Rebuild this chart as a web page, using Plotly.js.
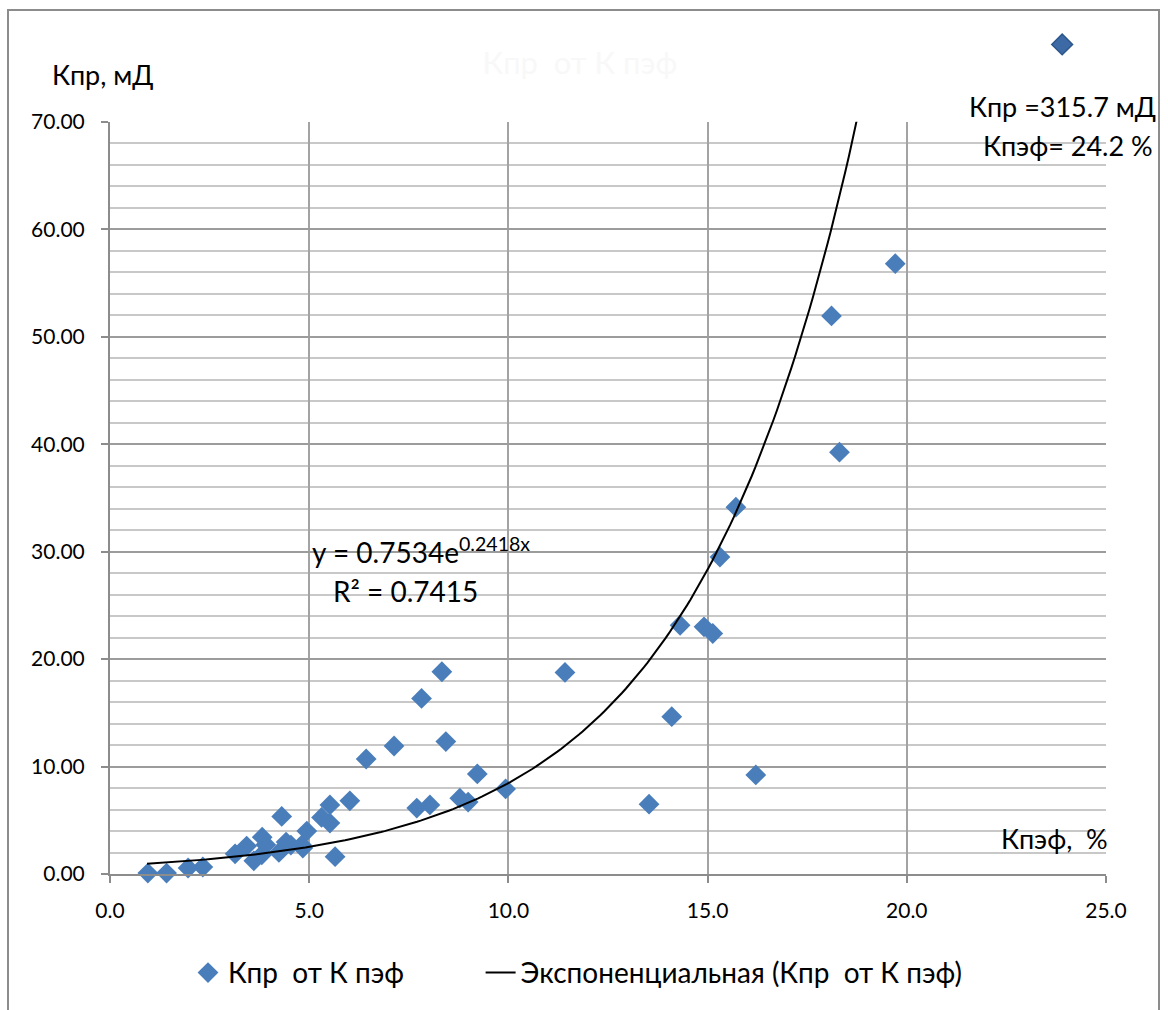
<!DOCTYPE html>
<html>
<head>
<meta charset="utf-8">
<script src="https://cdn.plot.ly/plotly-3.0.1.min.js"></script>
<style>html,body{margin:0;padding:0;background:#fff;}#chart{width:1168px;height:1010px;}</style>
</head>
<body>
<div id="chart"></div>
<script>
// Porosity (Кпэф, %) vs permeability (Кпр, мД)
const kpefX = [0.95,1.42,1.96,2.33,3.14,3.43,3.61,3.82,3.81,3.91,4.31,4.24,4.42,4.54,4.81,4.84,4.94,5.31,5.52,5.52,5.65,6.02,6.43,7.13,7.70,7.82,8.03,8.33,8.43,8.78,8.99,9.22,9.93,11.42,13.53,14.10,14.31,14.91,15.13,15.31,15.71,16.21,18.11,18.31,19.71];
const kprY  = [0.09,0.09,0.56,0.65,1.88,2.60,1.23,3.43,1.79,2.72,5.36,2.01,2.97,2.69,2.69,2.41,3.99,5.26,6.43,4.74,1.61,6.81,10.70,11.91,6.13,16.34,6.43,18.82,12.32,7.06,6.69,9.31,7.92,18.76,6.50,14.64,23.15,23.00,22.38,29.50,34.14,9.22,51.93,39.25,56.80];
// off-scale point (Кпр = 315.7 мД, Кпэф = 24.2 %) shown above the plot frame
const offscaleX = [23.9];
const offscaleShownY = [77.2];
// exponential trend coefficients y = a*e^(b*x)
const trendA = 0.7534;
const trendB = 0.2418;
const trendRange = [0.93, 19.0];

const xTicks = [0,5,10,15,20,25];
const yTicks = [0,10,20,30,40,50,60,70];
const xRange = [0, 25];
const yRange = [0, 70];

const trendX = [];
const trendY = [];
for (let i = 0; i <= 200; i++) {
  const x = trendRange[0] + (trendRange[1] - trendRange[0]) * i / 200;
  trendX.push(x);
  trendY.push(trendA * Math.exp(trendB * x));
}

// layout geometry helpers (pixel -> paper)
const L = 110, R = 1106, T = 30, B = 876, AXTOP = 122;
const px = v => (v - L) / (R - L);
const py = v => (B - v) / (B - T);
const mainTop = py(AXTOP);

const FONT = 'Lato, "Open Sans", sans-serif';
const NB = '\u00a0';

const traces = [
  {
    x: kpefX, y: kprY, type: 'scatter', mode: 'markers',
    name: 'Кпр' + NB + NB + 'от К пэф' + NB.repeat(10),
    marker: {symbol: 'diamond', size: 16, color: '#4a7ebb', line: {width: 0}},
    cliponaxis: false
  },
  {
    x: trendX, y: trendY, type: 'scatter', mode: 'lines',
    name: 'Экспоненциальная (Кпр' + NB + NB + 'от К пэф)',
    line: {color: '#000000', width: 2}
  },
  {
    x: offscaleX, y: offscaleShownY, type: 'scatter', mode: 'markers',
    xaxis: 'x2', yaxis: 'y2',
    showlegend: false, cliponaxis: false,
    marker: {symbol: 'diamond', size: 16, color: '#3d6aa5', line: {width: 1.5, color: '#2c578c'}}
  }
];

const annFont = s => ({family: FONT, size: s, color: '#000'});

const layout = {
  width: 1168, height: 1010,
  margin: {l: L, r: 1168 - R, t: T, b: 1010 - B},
  paper_bgcolor: '#ffffff', plot_bgcolor: 'rgba(0,0,0,0)',
  font: {family: FONT, size: 21, color: '#000'},
  title: {text: 'Кпр' + NB + NB + 'от К пэф', font: {family: FONT, size: 31, color: '#f8f8f8'}, x: 580 / 1168, xref: 'container', xanchor: 'center', y: 1 - 63 / 1010, yref: 'container', yanchor: 'middle'},
  showlegend: true,
  legend: {orientation: 'h', x: px(188), xanchor: 'left', y: py(950), yanchor: 'top', font: {family: FONT, size: 28, color: '#000'}},
  xaxis: {
    range: xRange, tickvals: xTicks, tickformat: '.1f',
    showgrid: true, gridcolor: '#a3a3a3', gridwidth: 2,
    zeroline: false, showline: true, linecolor: '#8c8c8c', linewidth: 2,
    ticks: 'outside', ticklen: 7, tickwidth: 2, tickcolor: '#8c8c8c',
    tickfont: {family: FONT, size: 21, color: '#000'}, ticklabelstandoff: 10,
    anchor: 'y'
  },
  yaxis: {
    domain: [0, mainTop],
    range: yRange, tickvals: yTicks, tickformat: '.2f',
    showgrid: true, gridcolor: '#9c9c9c', gridwidth: 2,
    minor: {dtick: 2, showgrid: true, gridcolor: '#c8c8c8', gridwidth: 2, ticks: ''},
    zeroline: false, showline: true, linecolor: '#8c8c8c', linewidth: 2,
    ticks: 'outside', ticklen: 7, tickwidth: 2, tickcolor: '#8c8c8c',
    tickfont: {family: FONT, size: 21, color: '#000'}, ticklabelstandoff: 12,
    anchor: 'x'
  },
  xaxis2: {range: xRange, overlaying: 'x', anchor: 'y2', visible: false, showgrid: false, zeroline: false},
  yaxis2: {domain: [0, 1], range: [yRange[0], yRange[1] / mainTop], anchor: 'x2', visible: false, showgrid: false, zeroline: false},
  annotations: [
    {text: 'Кпр, мД', xref: 'paper', yref: 'paper', x: px(50), y: py(75), xanchor: 'left', yanchor: 'middle', showarrow: false, font: annFont(27)},
    {text: 'Кпэф,' + NB + NB + '%', xref: 'paper', yref: 'paper', x: px(1110), y: py(840), xanchor: 'right', yanchor: 'middle', showarrow: false, font: annFont(27)},
    {text: 'Кпр =315.7 мД', xref: 'paper', yref: 'paper', x: px(1158), y: py(107), xanchor: 'right', yanchor: 'middle', showarrow: false, font: annFont(27)},
    {text: 'Кпэф= 24.2 %', xref: 'paper', yref: 'paper', x: px(1155), y: py(146), xanchor: 'right', yanchor: 'middle', showarrow: false, font: annFont(27)},
    {text: 'y = 0.7534e<sup>0.2418x</sup>', xref: 'paper', yref: 'paper', x: px(421), y: py(552), xanchor: 'center', yanchor: 'middle', showarrow: false, font: annFont(28)},
    {text: 'R² = 0.7415', xref: 'paper', yref: 'paper', x: px(405), y: py(592), xanchor: 'center', yanchor: 'middle', showarrow: false, font: annFont(28)}
  ],
  shapes: [
    {type: 'rect', xref: 'paper', yref: 'paper', x0: px(8), x1: px(1159), y0: py(1015), y1: py(10), line: {color: '#8c8c8c', width: 2}, fillcolor: 'rgba(0,0,0,0)', layer: 'below'}
  ]
};

Plotly.newPlot('chart', traces, layout, {displayModeBar: false, staticPlot: true});
</script>
</body>
</html>
